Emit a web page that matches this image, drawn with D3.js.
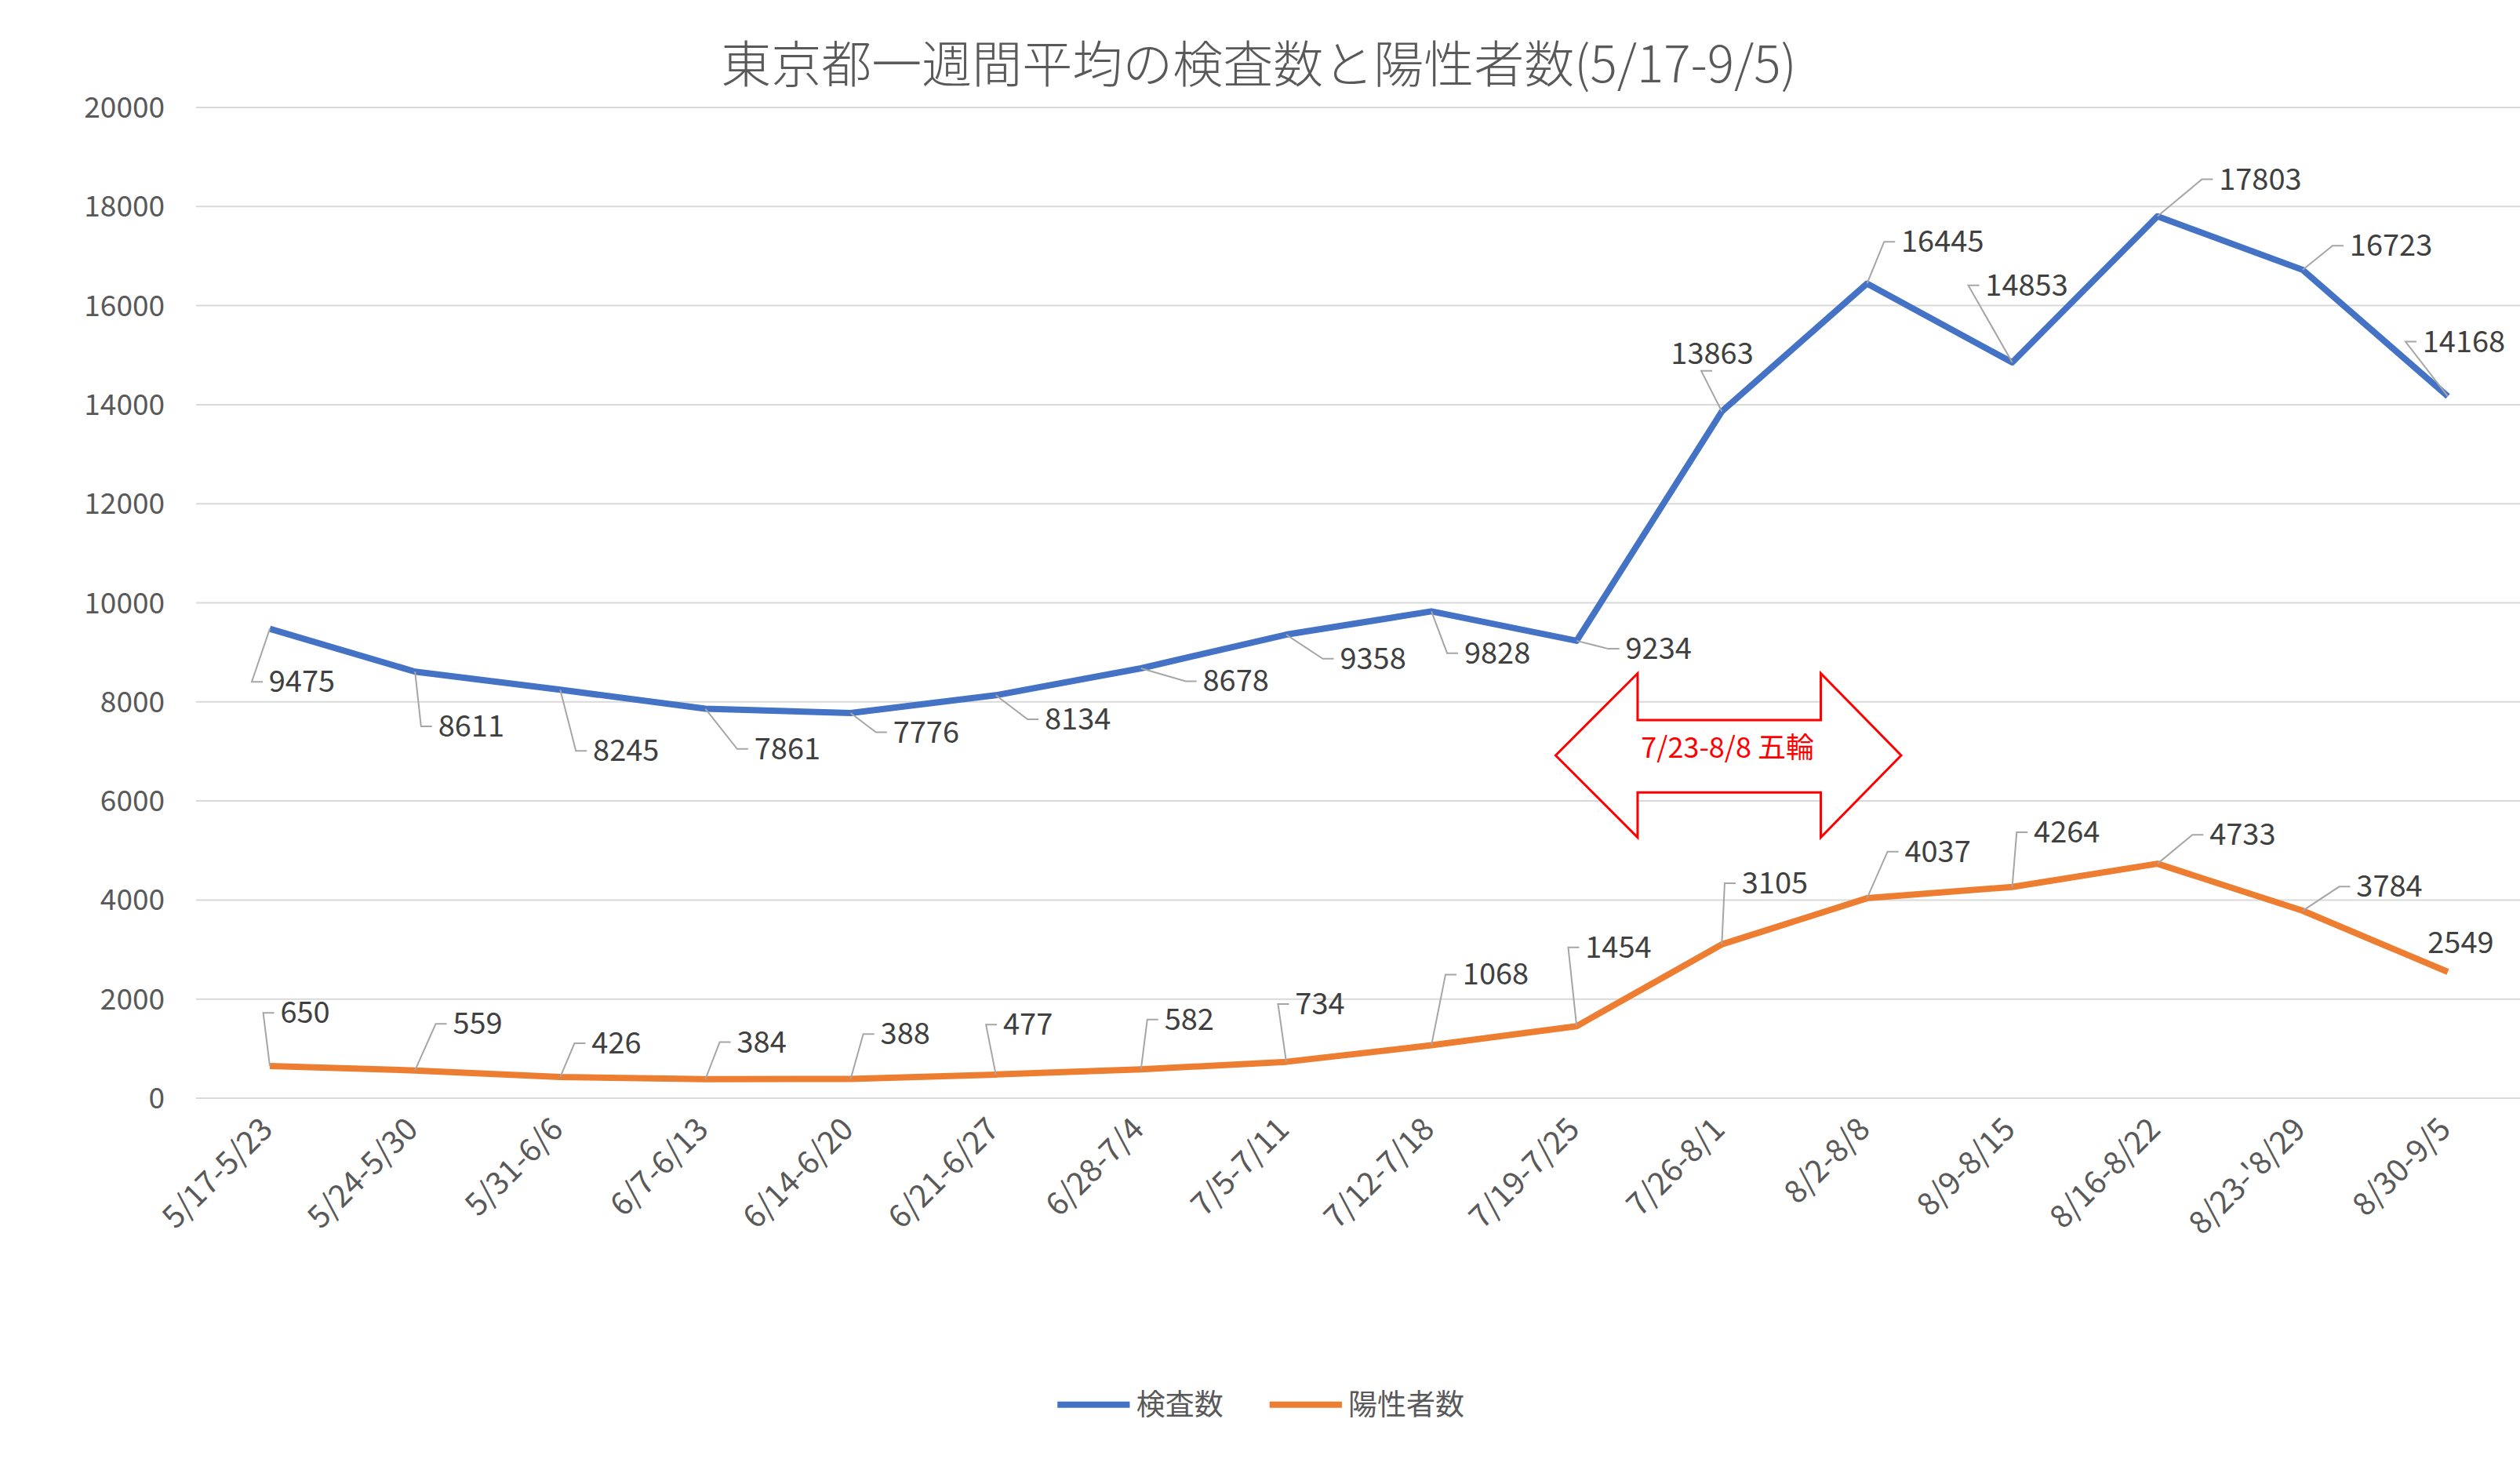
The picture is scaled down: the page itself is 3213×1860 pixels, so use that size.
<!DOCTYPE html>
<html><head><meta charset="utf-8">
<script src="https://cdn.jsdelivr.net/npm/d3@7"></script>
<style>body{margin:0;background:#fff}text{font-family:"Noto Sans CJK JP","Noto Sans",sans-serif}</style>
</head><body><svg id="c" width="3213" height="1860"></svg>
<script>
var weeks = ["5/17-5/23","5/24-5/30","5/31-6/6","6/7-6/13","6/14-6/20","6/21-6/27","6/28-7/4","7/5-7/11","7/12-7/18","7/19-7/25","7/26-8/1","8/2-8/8","8/9-8/15","8/16-8/22","8/23-'8/29","8/30-9/5"]
var tests = [9475,8611,8245,7861,7776,8134,8678,9358,9828,9234,13863,16445,14853,17803,16723,14168]
var positives = [650,559,426,384,388,477,582,734,1068,1454,3105,4037,4264,4733,3784,2549]
var yTicks = [0,2000,4000,6000,8000,10000,12000,14000,16000,18000,20000]

// label offsets (screen px, before scale) – layout, not data
var s = 2.049
var testOff = [[20,33],[35,34],[41,38],[51,25],[47,12],[51,15],[59,8],[54,15],[41,26],[51,5],[-6,-36],[47,-26],[9,-48],[64,-23],[55,-15],[10,-34]]
var posOff = [[22,-33],[39,-29],[35,-21],[35,-23],[34,-28],[20,-31],[30,-31],[21,-36],[40,-44],[26,-49],[33,-38],[44,-29],[34,-34],[53,-18],[54,-15],[8,-18]]

var svg = d3.select("#c")
var x = d3.scalePoint().domain(weeks).range([344, 3121])
var y = d3.scaleLinear().domain([0, 20000]).range([1400, 137])

svg.append("g").selectAll("line").data(yTicks).join("line")
  .attr("x1", 250).attr("x2", 3213).attr("y1", d => y(d)).attr("y2", d => y(d))
  .attr("stroke", "#d9d9d9").attr("stroke-width", 2)
svg.append("g").selectAll("text").data(yTicks).join("text")
  .attr("x", 210).attr("y", d => y(d) + 13).attr("text-anchor", "end")
  .attr("font-size", 37).attr("fill", "#595959").text(d => d)

svg.append("g").selectAll("text").data(weeks).join("text")
  .attr("transform", d => "translate(" + (x(d) + 6) + ",1442) rotate(-45)")
  .attr("text-anchor", "end").attr("font-size", 40).attr("fill", "#595959").text(d => d)

svg.append("text").attr("x", 1605).attr("y", 105).attr("text-anchor", "middle")
  .attr("font-size", 64).attr("font-weight", 300).attr("fill", "#595959").text("東京都一週間平均の検査数と陽性者数(5/17-9/5)")

function series(vals, off, color) {
  var line = d3.line().x((d, i) => x(weeks[i])).y(d => y(d))
  svg.append("path").datum(vals).attr("d", line).attr("fill", "none")
    .attr("stroke", color).attr("stroke-width", 8).attr("stroke-linejoin", "round")
  vals.forEach(function(v, i) {
    var px = x(weeks[i]), py = y(v)
    var lx = px + off[i][0] * s, ly = py + off[i][1] * s
    var w = String(v).length * 21
    var dist = Math.hypot(off[i][0], off[i][1])
    if (dist > 30) {
      var ex = off[i][0] > 0 ? lx - w / 2 - 8 : lx
      var ey = off[i][0] > 0 ? ly : ly + 22
      svg.append("polyline").attr("points", [px, py, ex - 14, ey, ex, ey].join(" "))
        .attr("fill", "none").attr("stroke", "#a6a6a6").attr("stroke-width", 2)
    }
    svg.append("text").attr("x", lx).attr("y", ly + 13).attr("text-anchor", "middle")
      .attr("font-size", 38).attr("fill", "#404040").text(v)
  })
}
series(tests, testOff, "#4472C4")
series(positives, posOff, "#ED7D31")

// 五輪 arrow
var ap = [[968,470],[1019,419],[1019,448],[1133,448],[1133,419],[1183,470],[1133,521],[1133,493],[1019,493],[1019,521]]
svg.append("polygon").attr("points", ap.map(p => [p[0] * s, p[1] * s].join(",")).join(" "))
  .attr("fill", "#fff").attr("stroke", "#FF0000").attr("stroke-width", 3)
svg.append("text").attr("x", 1075 * s).attr("y", 465 * s + 13).attr("text-anchor", "middle")
  .attr("font-size", 36).attr("fill", "#FF0000").text("7/23-8/8 五輪")

// legend
var leg = [["検査数", "#4472C4", 658], ["陽性者数", "#ED7D31", 790]]
leg.forEach(function(l) {
  svg.append("line").attr("x1", l[2] * s).attr("x2", (l[2] + 45) * s).attr("y1", 874 * s).attr("y2", 874 * s)
    .attr("stroke", l[1]).attr("stroke-width", 8)
  svg.append("text").attr("x", (l[2] + 49) * s).attr("y", 874 * s + 13).attr("font-size", 37)
    .attr("fill", "#595959").text(l[0])
})
</script></body></html>
